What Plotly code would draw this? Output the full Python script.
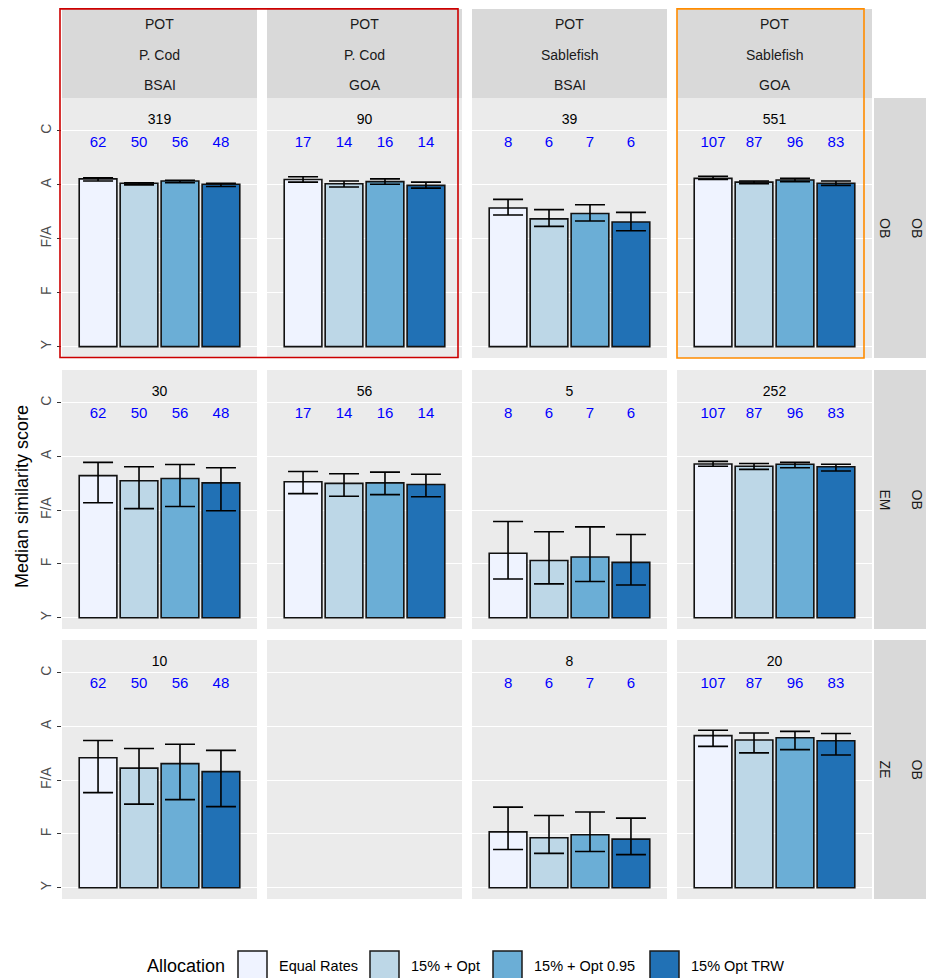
import plotly.graph_objects as go

# page offset: the browser places the figure 8px in from the top-left corner
OFF = 8
W, H = 934 - OFF, 978 - OFF

allocations = ["Equal Rates", "15% + Opt", "15% + Opt 0.95", "15% Opt TRW"]
alloc_colors = ["#EFF3FF", "#BDD7E7", "#6BAED6", "#2171B5"]

col_labels = [("POT", "P. Cod", "BSAI"), ("POT", "P. Cod", "GOA"),
              ("POT", "Sablefish", "BSAI"), ("POT", "Sablefish", "GOA")]
row_labels = [("OB", "OB"), ("EM", "OB"), ("ZE", "OB")]

score_ticks = [0, 1, 2, 3, 4]
score_labels = ["Y", "F", "F/A", "A", "C"]

# median similarity score per row (monitoring) x column (fishery) x allocation
median = [
    [[3.11, 3.03, 3.07, 3.01], [3.10, 3.02, 3.06, 2.99],
     [2.57, 2.37, 2.47, 2.31], [3.12, 3.05, 3.09, 3.03]],
    [[2.645, 2.55, 2.59, 2.51], [2.53, 2.50, 2.51, 2.48],
     [1.20, 1.065, 1.13, 1.03], [2.86, 2.82, 2.855, 2.81]],
    [[2.42, 2.225, 2.31, 2.16], None,
     [1.04, 0.93, 0.985, 0.905], [2.83, 2.75, 2.79, 2.735]],
]
upper = [
    [[3.13, 3.04, 3.085, 3.03], [3.15, 3.07, 3.11, 3.05],
     [2.73, 2.54, 2.63, 2.49], [3.16, 3.07, 3.12, 3.07]],
    [[2.89, 2.81, 2.85, 2.79], [2.72, 2.68, 2.71, 2.67],
     [1.79, 1.60, 1.69, 1.55], [2.91, 2.87, 2.89, 2.855]],
    [[2.74, 2.59, 2.67, 2.555], None,
     [1.50, 1.345, 1.41, 1.295], [2.93, 2.88, 2.91, 2.87]],
]
lower = [
    [[3.07, 3.00, 3.04, 2.97], [3.05, 2.96, 3.01, 2.94],
     [2.44, 2.23, 2.33, 2.15], [3.10, 3.02, 3.06, 2.99]],
    [[2.14, 2.03, 2.07, 1.99], [2.31, 2.26, 2.29, 2.25],
     [0.72, 0.63, 0.675, 0.61], [2.82, 2.76, 2.79, 2.73]],
    [[1.77, 1.555, 1.64, 1.51], None,
     [0.71, 0.64, 0.675, 0.615], [2.63, 2.51, 2.57, 2.47]],
]
# sample sizes per allocation (per fishery column) and panel totals
alloc_n = [[62, 50, 56, 48], [17, 14, 16, 14], [8, 6, 7, 6], [107, 87, 96, 83]]
panel_n = [[319, 90, 39, 551], [30, 56, 5, 252], [10, None, 8, 20]]

# ---------- layout geometry (screen pixels) ----------
col_px = [(62, 257), (267, 462), (472, 667), (677, 872)]
row_px = [(98, 358), (370, 629), (640, 899)]
strip_top = (9, 98)
rstrip_x = (874, 934)
legend_key_x = [238, 370, 493, 650]

def fx(p):
    return (p - OFF) / W

def fy(p):
    return 1 - (p - OFF) / H

FONT = "Liberation Sans, Arial, sans-serif"
fig = go.Figure()
layout = dict(
    width=W, height=H, margin=dict(l=0, r=0, t=0, b=0),
    paper_bgcolor="white", plot_bgcolor="#EBEBEB",
    font=dict(family=FONT, size=13, color="#1A1A1A"),
    barmode="overlay", showlegend=False,
)
shapes = []
annotations = []

for r in range(3):
    for c in range(4):
        k = r * 4 + c + 1
        xa = "x" if k == 1 else f"x{k}"
        ya = "y" if k == 1 else f"y{k}"
        layout["xaxis" if k == 1 else f"xaxis{k}"] = dict(
            domain=[fx(col_px[c][0]), fx(col_px[c][1])], range=[0.12, 4.88],
            anchor=ya, showgrid=False, zeroline=False, showticklabels=False,
            ticks="", fixedrange=True,
        )
        layout["yaxis" if k == 1 else f"yaxis{k}"] = dict(
            domain=[fy(row_px[r][1]), fy(row_px[r][0])], range=[-0.21, 4.61],
            anchor=xa, showgrid=True, gridcolor="white", gridwidth=1.4,
            zeroline=False, tickvals=score_ticks, ticktext=score_labels,
            showticklabels=(c == 0), ticks="outside" if c == 0 else "",
            ticklen=4, tickcolor="#333333", tickwidth=1, tickangle=-90,
            tickfont=dict(size=14, color="#4D4D4D", family=FONT),
            fixedrange=True,
        )
        med = median[r][c]
        if med is not None:
            for a in range(4):
                fig.add_trace(go.Bar(
                    x=[a + 1], y=[med[a]], width=0.92,
                    marker=dict(color=alloc_colors[a],
                                line=dict(color="#111111", width=1.6)),
                    error_y=dict(type="data", symmetric=False,
                                 array=[upper[r][c][a] - med[a]],
                                 arrayminus=[med[a] - lower[r][c][a]],
                                 color="black", thickness=1.6, width=15),
                    name=allocations[a], legendgroup=allocations[a],
                    xaxis=xa, yaxis=ya, hoverinfo="skip",
                ))
            fig.add_trace(go.Scatter(
                x=[1, 2, 3, 4], y=[3.78] * 4, mode="text",
                text=[str(n) for n in alloc_n[c]],
                textfont=dict(color="#0000FF", size=15, family=FONT),
                xaxis=xa, yaxis=ya, hoverinfo="skip",
            ))
            fig.add_trace(go.Scatter(
                x=[2.5], y=[4.2], mode="text", text=[str(panel_n[r][c])],
                textfont=dict(color="black", size=14, family=FONT),
                xaxis=xa, yaxis=ya, hoverinfo="skip",
            ))
        else:
            fig.add_trace(go.Scatter(x=[None], y=[None], mode="markers",
                                     xaxis=xa, yaxis=ya))

# column strips
for c in range(4):
    shapes.append(dict(type="rect", xref="paper", yref="paper",
                       x0=fx(col_px[c][0]), x1=fx(col_px[c][1]),
                       y0=fy(strip_top[1]), y1=fy(strip_top[0]),
                       fillcolor="#D9D9D9", line=dict(width=0), layer="below"))
    for i, ypx in enumerate([24, 55, 85]):
        annotations.append(dict(
            xref="paper", yref="paper", x=fx((col_px[c][0] + col_px[c][1]) / 2),
            y=fy(ypx), text=col_labels[c][i], showarrow=False,
            font=dict(size=14, color="#1A1A1A", family=FONT),
            xanchor="center", yanchor="middle"))

# row strips
for r in range(3):
    shapes.append(dict(type="rect", xref="paper", yref="paper",
                       x0=fx(rstrip_x[0]), x1=fx(rstrip_x[1]),
                       y0=fy(row_px[r][1]), y1=fy(row_px[r][0]),
                       fillcolor="#D9D9D9", line=dict(width=0), layer="below"))
    ymid = (row_px[r][0] + row_px[r][1]) / 2
    for i, xpx in enumerate([885, 917]):
        annotations.append(dict(
            xref="paper", yref="paper", x=fx(xpx), y=fy(ymid),
            text=row_labels[r][i], showarrow=False, textangle=90,
            font=dict(size=14, color="#1A1A1A", family=FONT),
            xanchor="center", yanchor="middle"))

# highlight boxes
shapes.append(dict(type="rect", xref="paper", yref="paper",
                   x0=fx(60), x1=fx(458), y0=fy(357.5), y1=fy(8.9),
                   line=dict(color="#CC0000", width=1.6), fillcolor="rgba(0,0,0,0)"))
shapes.append(dict(type="rect", xref="paper", yref="paper",
                   x0=fx(677), x1=fx(864), y0=fy(358), y1=fy(8.9),
                   line=dict(color="#FF8C00", width=1.6), fillcolor="rgba(0,0,0,0)"))

# y-axis title
annotations.append(dict(
    xref="paper", yref="paper", x=fx(22), y=fy(497),
    text="Median similarity score", showarrow=False, textangle=-90,
    font=dict(size=18, color="black", family=FONT),
    xanchor="center", yanchor="middle"))

# legend (ggplot-style keys below the panels)
annotations.append(dict(
    xref="paper", yref="paper", x=fx(145), y=fy(966), text="Allocation",
    showarrow=False, xanchor="left", yanchor="middle",
    font=dict(size=18, color="black", family=FONT)))
for a in range(4):
    kx = legend_key_x[a]
    shapes.append(dict(type="rect", xref="paper", yref="paper",
                       x0=fx(kx), x1=fx(kx + 29), y0=fy(982), y1=fy(951),
                       fillcolor=alloc_colors[a],
                       line=dict(color="#1A1A1A", width=1.5)))
    annotations.append(dict(
        xref="paper", yref="paper", x=fx(kx + 39), y=fy(966),
        text=allocations[a], showarrow=False, xanchor="left", yanchor="middle",
        font=dict(size=14.5, color="black", family=FONT)))

layout["shapes"] = shapes
layout["annotations"] = annotations
fig.update_layout(**layout)
fig.write_html("out.html")
